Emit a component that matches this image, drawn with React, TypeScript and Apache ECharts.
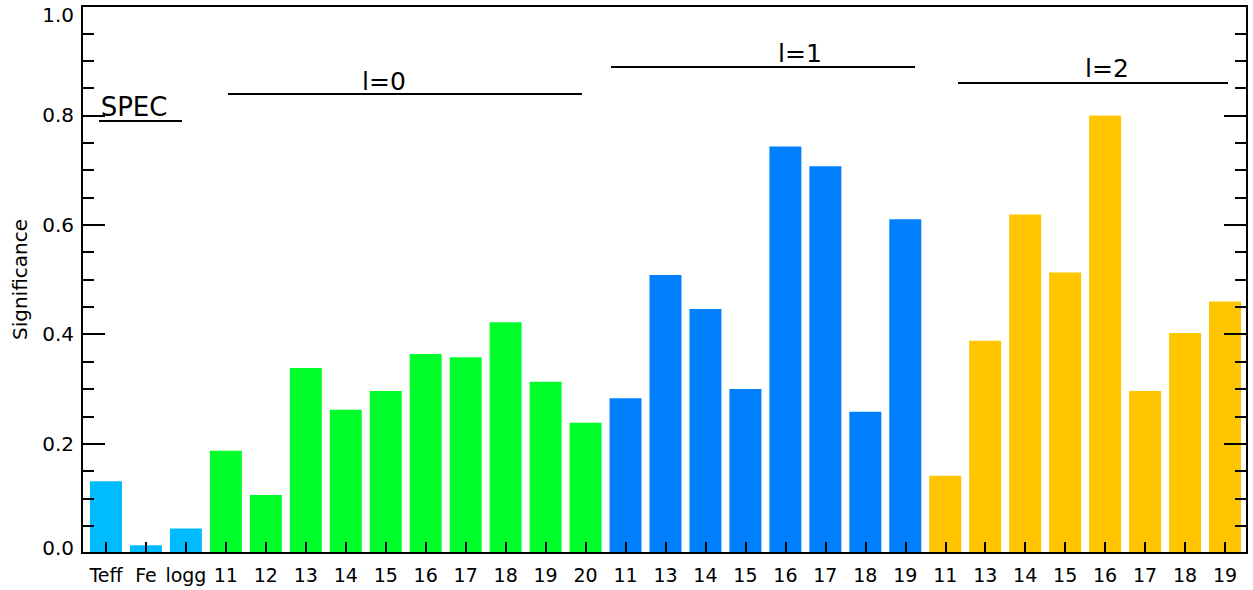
import React, { useEffect, useRef } from "react";
import * as echarts from "echarts";

const specLabels = ["Teff", "Fe", "logg"];
const specValues = [0.131, 0.014, 0.045];
const l0Labels = ["11", "12", "13", "14", "15", "16", "17", "18", "19", "20"];
const l0Values = [0.187, 0.106, 0.338, 0.262, 0.296, 0.364, 0.358, 0.422, 0.313, 0.238];
const l1Labels = ["11", "13", "14", "15", "16", "17", "18", "19"];
const l1Values = [0.283, 0.508, 0.446, 0.3, 0.743, 0.707, 0.258, 0.61];
const l2Labels = ["11", "13", "14", "15", "16", "17", "18", "19"];
const l2Values = [0.141, 0.388, 0.619, 0.513, 0.8, 0.296, 0.402, 0.46];

const groupColors = ["#00BBFF", "#00FF2A", "#0080FF", "#FFC600"];
const groupNames = ["SPEC", "l=0", "l=1", "l=2"];

const FONT = "DejaVu Sans";

export default function App() {
  const ref = useRef<HTMLDivElement>(null);
  useEffect(() => {
    if (!ref.current) return;
    const chart = echarts.init(ref.current, null, { renderer: "svg" });
    const groups = [
      [specLabels, specValues],
      [l0Labels, l0Values],
      [l1Labels, l1Values],
      [l2Labels, l2Values],
    ] as [string[], number[]][];
    const categories: string[] = [];
    const data: any[] = [];
    groups.forEach(([labs, vals], gi) => {
      labs.forEach((l, i) => {
        categories.push(l);
        data.push({ value: vals[i], itemStyle: { color: groupColors[gi] } });
      });
    });
    const lineStyle = { color: "#000", width: 2 };
    const annot = (
      text: string,
      tx: number,
      ty: number,
      x1: number,
      x2: number,
      ly: number,
      size: number
    ) => [
      {
        type: "text",
        x: tx,
        y: ty,
        style: {
          text,
          fill: "#000",
          font: `${size}px "${FONT}"`,
          textAlign: "center",
          textVerticalAlign: "middle",
        },
      },
      {
        type: "line",
        shape: { x1, y1: ly, x2, y2: ly },
        style: { stroke: "#000", lineWidth: 2 },
      },
    ];
    const labelRich = {
      n: { color: "#000", fontSize: 20, fontFamily: FONT },
      lo: { color: "#000", fontSize: 20, fontFamily: FONT, padding: [0, 0, 10, 0] },
      hi: { color: "#000", fontSize: 20, fontFamily: FONT, padding: [18, 0, 0, 0] },
    };
    chart.setOption({
      animation: false,
      backgroundColor: "#fff",
      textStyle: { fontFamily: FONT },
      grid: [
        { left: 86, right: 8, top: 6, bottom: 37 },
        { left: 82, right: 6, top: 6, bottom: 37 },
      ],
      xAxis: [
        {
          type: "category",
          gridIndex: 0,
          data: categories,
          z: 10,
          axisLine: { show: false, onZero: false },
          axisTick: {
            show: true,
            inside: true,
            alignWithLabel: true,
            length: 11,
            lineStyle: { color: "#000", width: 2 },
          },
          axisLabel: {
            interval: 0,
            color: "#000",
            fontSize: 19,
            fontFamily: FONT,
            margin: 12,
          },
        },
        {
          type: "value",
          gridIndex: 1,
          position: "bottom",
          min: 0,
          max: 1,
          z: 10,
          axisLine: { show: true, onZero: false, lineStyle },
          axisTick: { show: false },
          axisLabel: { show: false },
          splitLine: { show: false },
        },
        {
          type: "value",
          gridIndex: 1,
          position: "top",
          min: 0,
          max: 1,
          z: 10,
          axisLine: { show: true, onZero: false, lineStyle },
          axisTick: { show: false },
          axisLabel: { show: false },
          splitLine: { show: false },
        },
      ],
      yAxis: [
        {
          type: "value",
          gridIndex: 0,
          min: 0,
          max: 1,
          show: false,
        },
        {
          type: "value",
          gridIndex: 1,
          position: "left",
          min: 0,
          max: 1,
          interval: 0.2,
          z: 10,
          name: "Significance",
          nameLocation: "middle",
          nameGap: 52,
          nameTextStyle: { color: "#000", fontSize: 20, fontFamily: FONT },
          axisLine: { show: true, onZero: false, lineStyle },
          axisTick: { show: true, inside: true, length: 23, lineStyle },
          minorTick: { show: true, splitNumber: 4, length: 12, lineStyle },
          axisLabel: {
            color: "#000",
            fontSize: 20,
            fontFamily: FONT,
            margin: 8,
            formatter: (v: number) => {
              const s = v.toFixed(1);
              if (v <= 0.0001) return `{lo|${s}}`;
              if (v >= 0.9999) return `{hi|${s}}`;
              return `{n|${s}}`;
            },
            rich: labelRich,
          },
          splitLine: { show: false },
          minorSplitLine: { show: false },
        },
        {
          type: "value",
          gridIndex: 1,
          position: "right",
          min: 0,
          max: 1,
          interval: 0.2,
          z: 10,
          axisLine: { show: true, onZero: false, lineStyle },
          axisTick: { show: true, inside: true, length: 23, lineStyle },
          minorTick: { show: true, splitNumber: 4, length: 12, lineStyle },
          axisLabel: { show: false },
          splitLine: { show: false },
          minorSplitLine: { show: false },
        },
      ],
      series: [
        {
          type: "bar",
          xAxisIndex: 0,
          yAxisIndex: 0,
          barWidth: "80%",
          data,
        },
      ],
      graphic: [
        ...annot(groupNames[0], 134, 107, 99, 182, 121, 26),
        ...annot(groupNames[1], 384, 81, 228, 582, 94, 25),
        ...annot(groupNames[2], 800, 53, 611, 915, 67, 25),
        ...annot(groupNames[3], 1107, 68, 958, 1228, 83, 25),
      ],
    });
    return () => chart.dispose();
  }, []);
  return (
    <div
      ref={ref}
      style={{ position: "absolute", left: 0, top: 0, width: 1253, height: 590 }}
    />
  );
}
